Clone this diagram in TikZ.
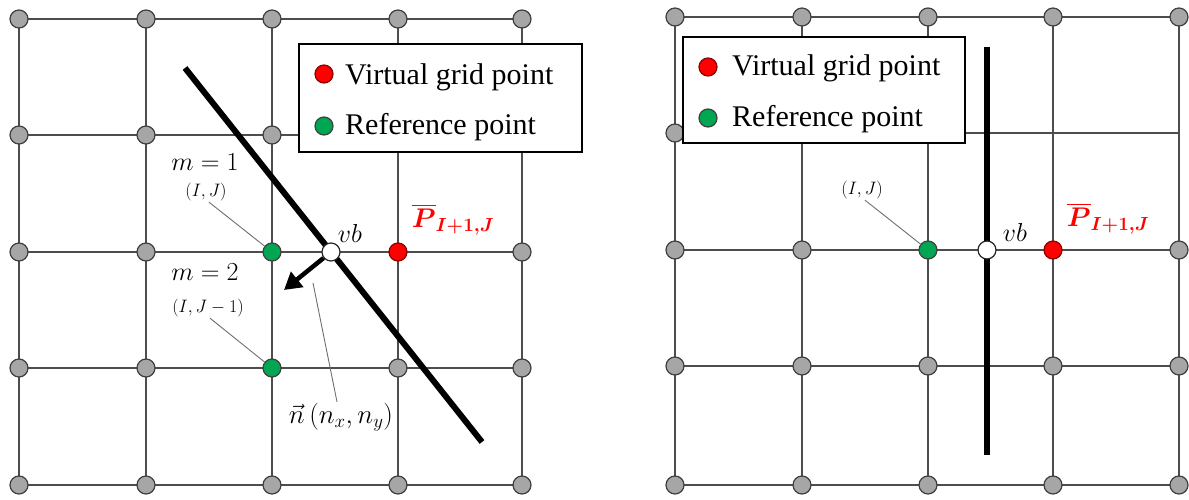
\RequirePackage{fix-cm}
\documentclass[tikz,border=0pt]{standalone}
\usepackage{amsmath,bm}
\usepackage{fontspec}
\newfontfamily\legendfont{Liberation Serif}
\usetikzlibrary{arrows.meta}
\definecolor{gline}{HTML}{4D4D4D}
\definecolor{gfill}{HTML}{A6A6A6}
\definecolor{gborder}{HTML}{3F3F3F}
\definecolor{refgreen}{HTML}{00A651}
\definecolor{virtred}{HTML}{FF0000}
\definecolor{redborder}{HTML}{8B0000}
\definecolor{leadgray}{HTML}{6E6E6E}
\tikzset{
  gridline/.style={gline, line width=1.6pt},
  gdot/.style={circle, draw=gborder, fill=gfill, line width=1.2pt, minimum size=18pt, inner sep=0pt},
  refdot/.style={gdot, fill=refgreen, draw=black!75},
  virtdot/.style={gdot, fill=virtred, draw=redborder},
  vbdot/.style={gdot, fill=white, draw=black!85},
  wall/.style={line width=6pt, black},
  legendbox/.style={draw=black, line width=2.6pt, fill=white, inner sep=0pt},
  legendtext/.style={font=\legendfont\fontsize{30}{34}\selectfont, anchor=base west, inner sep=0pt},
  leader/.style={leadgray, line width=0.9pt},
  normalarrow/.style={line width=4.5pt, -{Triangle[length=17pt,width=19pt]}},
  mlabel/.style={font=\fontsize{26}{30}\selectfont, inner sep=1pt},
  nlabel/.style={font=\fontsize{27}{31}\selectfont, inner sep=1pt},
  smalllabel/.style={font=\fontsize{18}{21}\selectfont, inner sep=1pt},
  plabel/.style={font=\fontsize{27}{31}\selectfont, text=virtred, inner sep=1pt}
}
\begin{document}
\begin{tikzpicture}[x=1pt,y=-1pt]
\useasboundingbox (0,0) rectangle (1189,500);
% ---------------- left panel ----------------
\foreach \i/\x in {1/19,2/146,3/272,4/398,5/522}
  \foreach \j/\y in {1/19,2/135,3/252,4/368,5/485}
    \coordinate (L-\i-\j) at (\x,\y);
\foreach \j in {1,...,5} \draw[gridline] (L-1-\j) -- (L-5-\j);
\foreach \i in {1,...,5} \draw[gridline] (L-\i-1) -- (L-\i-5);
\coordinate (Ltop) at (185,68);
\coordinate (Lbot) at (482,442);
\draw[wall] (Ltop) -- (Lbot);
\foreach \p in {1-1,2-1,3-1,4-1,5-1,1-2,2-2,3-2,1-3,2-3,5-3,1-4,2-4,4-4,5-4,1-5,2-5,3-5,4-5,5-5}
  \node[gdot] (Ld-\p) at (L-\p) {};
\node[refdot] (Ld-3-3) at (L-3-3) {};
\node[refdot] (Ld-3-4) at (L-3-4) {};
\node[virtdot] (Ld-4-3) at (L-4-3) {};
\node[vbdot] (Lvb) at (331,252) {};
% legend left
\node[legendbox, minimum width=283pt, minimum height=108pt] (Lleg) at (440.5,98) {};
\node[virtdot] (Llv) at (324,74) {};
\node[legendtext] (Llvt) at (345,85) {Virtual grid point};
\node[refdot] (Llr) at (324,126) {};
\node[legendtext] (Llrt) at (345,135) {Reference point};
% normal arrow
\coordinate (ntip) at (284,290);
\draw[normalarrow] (Lvb) -- (ntip);
% labels left
\node[mlabel] (m1) at (205,162) {$m=1$};
\node[smalllabel] (IJL) at (206,192) {$(I,J)$};
\node[mlabel] (m2) at (205,272) {$m=2$};
\node[smalllabel] (IJm) at (208,308) {$(I,J-1)$};
\node[nlabel] (nlab) at (341,417) {$\vec{n}\,(n_x,n_y)$};
\node[mlabel] (vbL) at (350,233) {$vb$};
\node[plabel] (PL) at (453,220) {$\bm{\overline{P}_{I+1,J}}$};
\draw[leader] ([xshift=3pt]IJL.south) -- (Ld-3-3);
\draw[leader] ([xshift=2pt]IJm.south) -- (Ld-3-4);
\coordinate (nlead) at (313,283);
\draw[leader] (nlead) -- ([xshift=-4pt]nlab.north);
% ---------------- right panel ----------------
\foreach \i/\x in {1/675,2/802,3/928,4/1053,5/1179}
  \foreach \j/\y in {1/17,2/133,3/250,4/366,5/485}
    \coordinate (R-\i-\j) at (\x,\y);
\foreach \j in {1,...,5} \draw[gridline] (R-1-\j) -- (R-5-\j);
\foreach \i in {1,...,5} \draw[gridline] (R-\i-1) -- (R-\i-5);
\coordinate (Rtop) at (987,47);
\coordinate (Rbot) at (987,455);
\draw[wall] (Rtop) -- (Rbot);
\foreach \p in {1-1,2-1,3-1,4-1,5-1,1-2,1-3,2-3,5-3,1-4,2-4,3-4,4-4,5-4,1-5,2-5,3-5,4-5,5-5}
  \node[gdot] (Rd-\p) at (R-\p) {};
\node[refdot] (Rd-3-3) at (R-3-3) {};
\node[virtdot] (Rd-4-3) at (R-4-3) {};
\node[vbdot] (Rvb) at (R-3-3 -| Rtop) {};
% legend right
\node[legendbox, minimum width=282pt, minimum height=106pt] (Rleg) at (824,90) {};
\node[virtdot] (Rlv) at (708,67) {};
\node[legendtext] (Rlvt) at (732,76) {Virtual grid point};
\node[refdot] (Rlr) at (708,118) {};
\node[legendtext] (Rlrt) at (732,127) {Reference point};
% labels right
\node[smalllabel] (IJR) at (862,190) {$(I,J)$};
\node[mlabel] (vbR) at (1015,232) {$vb$};
\node[plabel] (PR) at (1108,219) {$\bm{\overline{P}_{I+1,J}}$};
\draw[leader] ([xshift=3pt]IJR.south) -- (Rd-3-3);
\end{tikzpicture}
\end{document}
